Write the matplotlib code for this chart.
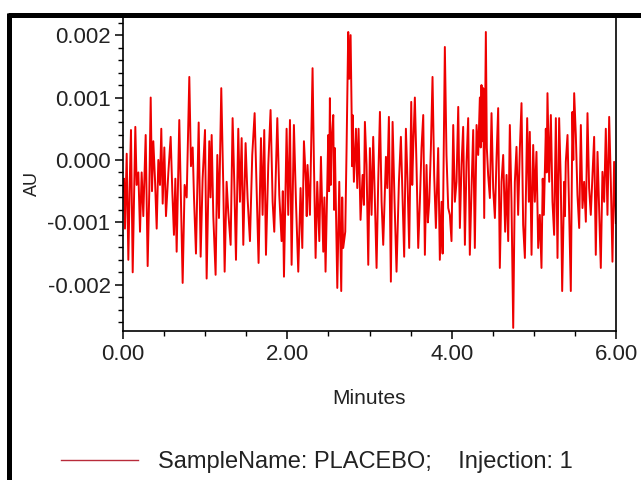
import numpy as np
import matplotlib
matplotlib.use("Agg")
import matplotlib.pyplot as plt
from matplotlib.lines import Line2D
from matplotlib.ticker import MultipleLocator, FuncFormatter

plt.rcParams["font.family"] = ["Liberation Sans", "DejaVu Sans"]

# retention time (min) of the noise peaks/troughs
minutes = [
    0.000, 0.012, 0.024, 0.045, 0.065, 0.085, 0.097, 0.118,
    0.134, 0.150, 0.166, 0.187, 0.207, 0.227, 0.247, 0.276,
    0.300, 0.320, 0.337, 0.353, 0.369, 0.389, 0.410, 0.430,
    0.450, 0.466, 0.483, 0.503, 0.523, 0.552, 0.580, 0.600,
    0.620, 0.637, 0.653, 0.685, 0.706, 0.726, 0.750, 0.775,
    0.807, 0.827, 0.848, 0.864, 0.888, 0.921, 0.945, 0.969,
    0.998, 1.018, 1.050, 1.065, 1.079, 1.099, 1.127, 1.148,
    1.168, 1.196, 1.221, 1.237, 1.261, 1.281, 1.310, 1.334,
    1.354, 1.375, 1.403, 1.423, 1.444, 1.464, 1.492, 1.516,
    1.545, 1.573, 1.602, 1.626, 1.650, 1.679, 1.699, 1.719,
    1.740, 1.768, 1.796, 1.821, 1.841, 1.878, 1.902, 1.930,
    1.945, 1.959,
    1.991, 2.011, 2.032, 2.052, 2.080, 2.105, 2.133, 2.161,
    2.182, 2.202, 2.226, 2.236, 2.246, 2.275, 2.307, 2.324,
    2.344, 2.364, 2.389, 2.409, 2.437, 2.451, 2.465, 2.498,
    2.508, 2.518, 2.529, 2.539, 2.559, 2.569, 2.579, 2.608,
    2.632, 2.656, 2.668, 2.680, 2.705, 2.721, 2.741, 2.753,
    2.770, 2.782, 2.788, 2.794, 2.810, 2.835, 2.851, 2.867,
    2.891, 2.916, 2.932,
    2.944, 2.964, 2.985, 3.005, 3.025, 3.045, 3.066, 3.086,
    3.106, 3.127, 3.147, 3.167, 3.200, 3.216, 3.236, 3.260,
    3.281, 3.305, 3.329, 3.358, 3.382, 3.402, 3.422, 3.443,
    3.463, 3.483, 3.508, 3.520, 3.532, 3.552, 3.572, 3.593,
    3.613, 3.633, 3.654, 3.674, 3.694, 3.710, 3.727, 3.747,
    3.767, 3.787, 3.808, 3.836, 3.856, 3.877, 3.890,
    3.917, 3.937, 3.958, 3.978, 3.998, 4.019, 4.039, 4.059,
    4.080, 4.100, 4.120, 4.140, 4.161, 4.181, 4.201, 4.221,
    4.242, 4.262, 4.282, 4.303, 4.323, 4.343, 4.353, 4.363,
    4.373, 4.384, 4.396, 4.416, 4.428, 4.444, 4.465, 4.485,
    4.505, 4.526, 4.546, 4.566, 4.586, 4.607, 4.627, 4.651,
    4.668, 4.688, 4.708, 4.728, 4.749, 4.769, 4.789, 4.809,
    4.830, 4.850, 4.870,
    4.891, 4.919, 4.939, 4.951, 4.972, 4.992, 5.012, 5.032,
    5.053, 5.073, 5.093, 5.108, 5.122, 5.146, 5.156, 5.166,
    5.187, 5.207, 5.227, 5.247, 5.268, 5.288, 5.308, 5.328,
    5.345, 5.369, 5.379, 5.389, 5.410, 5.430, 5.450, 5.470,
    5.480, 5.491, 5.511, 5.531, 5.552, 5.572, 5.592, 5.612,
    5.633, 5.653, 5.673, 5.693, 5.714, 5.734, 5.754, 5.775,
    5.795, 5.815, 5.835, 5.856, 5.876, 5.896, 5.917, 5.937,
    5.957, 5.977, 5.998,
]

# detector response in milli-AU at those times
mau = [
    -0.50, -0.30, -1.10, 0.10, -1.60, -0.20, 0.48, -1.80,
    -0.60, 0.53, -0.40, -0.20, -1.15, -0.20, -0.90, 0.40,
    -1.70, -0.50, 1.00, -0.50, 0.30, -0.30, -1.10, 0.00,
    -0.40, 0.50, -0.70, 0.20, -0.90, -0.20, 0.37, -0.50,
    -1.20, -0.30, -1.47, 0.64, -0.70, -1.97, -0.40, -0.60,
    1.33, -0.10, 0.20, -0.60, -1.50, 0.60, -1.55, -0.30,
    0.48, -1.90, 0.30, -0.60, 0.40, -0.90, -1.84, 0.08,
    -0.93, 1.15, -0.45, -1.79, -0.35, -0.83, -1.36, 0.67,
    -0.35, -1.60, 0.50, -0.67, 0.35, -1.36, 0.27, -0.61,
    -1.30, 0.08, 0.75, -0.45, -1.65, 0.35, -0.88, 0.48,
    -1.52, -0.08, 0.80, -0.67, -1.15, 0.67, -0.56, -1.30,
    -0.50, -1.87,
    0.50, -0.88, 0.64, -1.68, 0.56, -0.67, -1.79, -0.45,
    -1.41, 0.30, -0.35, -0.90, -0.08, -0.88, 1.47, -0.08,
    -1.57, -0.35, -1.30, 0.05, -1.47, -0.60, -1.79, 0.40,
    -0.50, 0.99, -0.40, 0.29, 0.72, -0.80, 0.19, -2.05,
    -0.35, -2.10, -0.60, -1.41, -1.15, 0.19, 2.05, 1.30,
    2.00, 0.80, -0.10, 0.72, -0.35, 0.50, -0.45, 0.50,
    -0.96, -0.24, -0.72,
    0.61, -0.08, -1.68, 0.19, -0.88, 0.37, -0.67, -1.73,
    -0.35, 0.77, -0.67, -1.36, 0.05, -0.45, 0.69, -1.95,
    0.61, -0.67, -1.79, -0.35, 0.37, -0.61, -1.55, 0.50,
    -0.35, -1.41, 0.93, -0.40, 0.19, 1.00, -0.08, -1.41,
    -0.67, 0.19, 0.72, -1.52, -0.08, -1.00, -0.67, 0.19,
    1.33, -0.24, -1.09, 0.19, -1.60, -0.67, -1.50,
    1.81, 0.08, -0.77, -0.88, -1.30, 0.56, -0.67, -0.35,
    0.85, -1.09, -0.08, 0.53, -1.36, -0.03, 0.67, -1.52,
    -0.45, 0.48, -1.41, 0.56, 0.08, 1.00, 0.20, 1.20,
    0.30, 1.15, -0.93, 2.05, 0.19, -0.24, -0.61, 0.75,
    -0.45, -0.93, 0.03, 0.83, -1.73, -0.35, 0.08, -1.15,
    -0.24, -1.30, 0.56, -0.67, -2.69, -0.35, 0.21, -0.88,
    0.19, 0.91, -1.04,
    -1.57, 0.67, -0.67, 0.45, -1.52, 0.24, -0.67, 0.13,
    -1.41, -0.88, -1.73, -0.30, -0.88, 0.50, -0.20, 1.07,
    -0.35, 0.72, -0.67, -1.20, 0.67, -1.57, 0.67, -0.35,
    -2.10, -0.35, -0.90, -0.03, 0.40, -0.88, -2.10, 0.77,
    0.00, 1.07, 0.40, -0.56, -1.09, 0.56, -0.77, -0.35,
    -0.99, 0.75, -0.45, -0.88, -0.24, 0.37, -1.52, 0.13,
    -0.77, -1.73, -0.19, -0.67, 0.50, -0.88, 0.69, -0.35,
    -1.63, -0.03, -1.01,
]

legend_label = "SampleName: PLACEBO;    Injection: 1"

assert len(minutes) == len(mau)
au = np.array(mau) / 1000.0

fig = plt.figure(figsize=(6.41, 4.8), dpi=100)
ax = fig.add_axes([123 / 641, 1 - 331 / 480, 493 / 641, 314 / 480])
ax.plot(minutes, au, color="#ee0000", lw=1.4)

ax.set_xlim(0, 6)
ax.set_ylim(-0.00274, 0.00229)
ax.xaxis.set_major_locator(MultipleLocator(2))
ax.xaxis.set_minor_locator(MultipleLocator(0.5))
ax.xaxis.set_major_formatter(FuncFormatter(lambda v, p: "%.2f" % v))
ax.yaxis.set_major_locator(MultipleLocator(0.001))
ax.yaxis.set_minor_locator(MultipleLocator(0.0002))
ax.yaxis.set_major_formatter(
    FuncFormatter(lambda v, p: "%.3f" % (0.0 if abs(v) < 1e-9 else v)))

ax.tick_params(which="major", length=6, width=1.1, labelsize=16,
               labelcolor="#222222", pad=3)
ax.tick_params(which="minor", length=3.5, width=1.0)
for s in ax.spines.values():
    s.set_linewidth(1.2)

fig.text(369 / 641, 1 - 398 / 480, "Minutes", ha="center", va="center",
         fontsize=15, color="#222222")
fig.text(32 / 641, 1 - 183 / 480, "AU", ha="center", va="center",
         rotation=90, fontsize=13, color="#222222")

# legend row under the plot
key = Line2D([], [], color="#b82b3a", lw=1.0)
fig.legend(handles=[key], labels=[legend_label], loc="center left",
           bbox_to_anchor=(61 / 641, 1 - 462 / 480), frameon=False,
           fontsize=17, handlelength=3.25, handletextpad=0.85,
           borderpad=0, borderaxespad=0)
for t in fig.legends[0].get_texts():
    t.set_color("#222222")

# thick black frame along the top and left edge
fig.add_artist(Line2D([8 / 641, 1], [1 - 14.5 / 480] * 2, color="black",
                      lw=3.6, solid_capstyle="butt"))
fig.add_artist(Line2D([8.5 / 641] * 2, [0, 1 - 12.5 / 480], color="black",
                      lw=3.6, solid_capstyle="butt"))

fig.savefig("out.png", dpi=100)
